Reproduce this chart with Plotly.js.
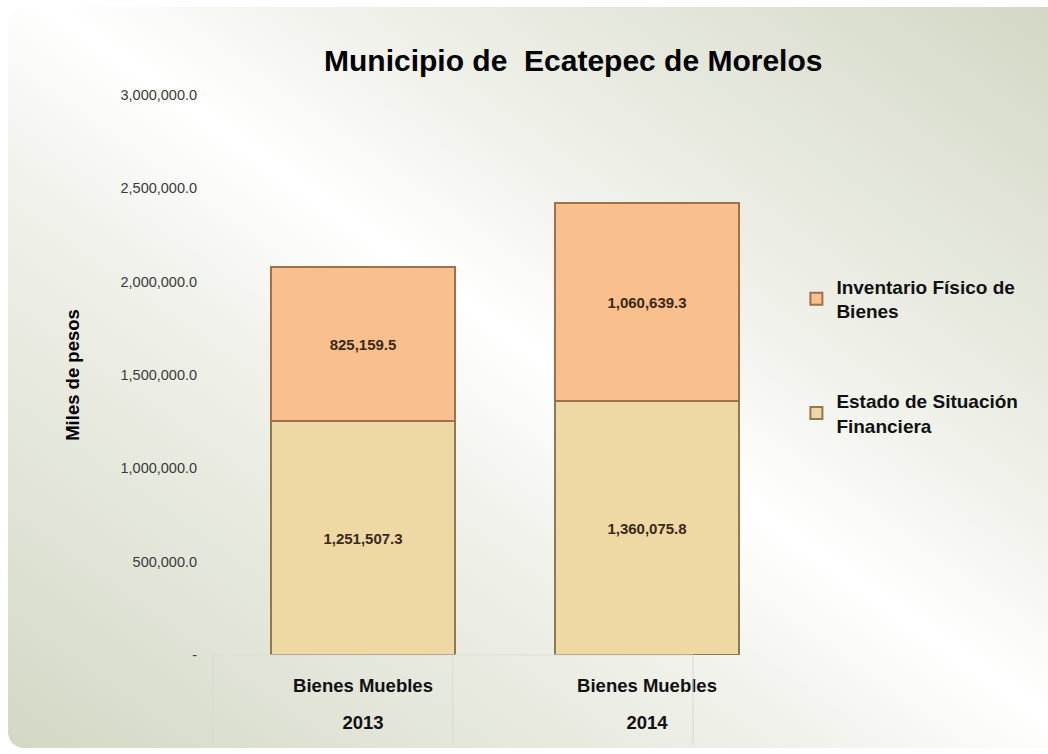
<!DOCTYPE html>
<html>
<head>
<meta charset="utf-8">
<script src="https://cdn.plot.ly/plotly-3.0.1.min.js"></script>
<style>
  html, body { margin: 0; padding: 0; background: #ffffff; }
  #wrap { position: absolute; left: 0; top: 0; width: 1048px; height: 754px; background: #ffffff; }
  #bg { position: absolute; left: 8px; top: 7px; width: 1040px; height: 741px;
        border-radius: 16px 0 0 16px;
        background: linear-gradient(to top right, #d3d8c5 0%, #f0f1ea 38%, #ffffff 52%, #f0f1ea 66%, #d3d8c5 100%); }
  #chart { position: absolute; left: 0; top: 0; width: 1048px; height: 754px; }
</style>
</head>
<body>
<div id="wrap">
  <div id="bg"></div>
  <div id="chart"></div>
</div>
<script>
const years = ["2013", "2014"];
const categories = ["Bienes Muebles", "Bienes Muebles"];
const estadoSituacion = [1251507.3, 1360075.8];
const inventarioFisico = [825159.5, 1060639.3];
const seriesNames = ["Estado de Situación<br>Financiera", "Inventario Físico de<br>Bienes"];
const yTickVals = [0, 500000, 1000000, 1500000, 2000000, 2500000, 3000000];
const yTickText = ["-", "500,000.0", "1,000,000.0", "1,500,000.0", "2,000,000.0", "2,500,000.0", "3,000,000.0"];

function fmt(v) {
  return v.toLocaleString("en-US", {minimumFractionDigits: 1, maximumFractionDigits: 1});
}

const labelFont = {family: "Liberation Sans, Arial, sans-serif", size: 15, color: "#3a2a1a", weight: "bold"};
const catFont = {family: "Liberation Sans, Arial, sans-serif", size: 18.5, color: "#111111", weight: "bold"};

const traces = [
  {
    type: "bar", name: seriesNames[0], legendgroup: "estado", legendrank: 2,
    x: years, y: estadoSituacion,
    text: estadoSituacion.map(fmt), texttemplate: "<b>%{text}</b>",
    textposition: "inside", insidetextanchor: "middle",
    textfont: labelFont,
    marker: {color: "#eed9a4", line: {color: "#8f7a50", width: 2}},
    hoverinfo: "skip"
  },
  {
    type: "bar", name: seriesNames[1], legendgroup: "inventario", legendrank: 1,
    x: years, y: inventarioFisico,
    text: inventarioFisico.map(fmt), texttemplate: "<b>%{text}</b>",
    textposition: "inside", insidetextanchor: "middle",
    textfont: labelFont,
    marker: {color: "#f9bf8c", line: {color: "#a0704a", width: 2}},
    hoverinfo: "skip"
  },
  {
    type: "scatter", mode: "markers", x: years, y: [null, null],
    xaxis: "x2", showlegend: false, hoverinfo: "skip"
  }
];

// light table-like dividers below the plot area (decoration only)
const dividerX = [-0.014, 0.408, 0.831];
const shapes = dividerX.map(function (px) {
  return {type: "line", xref: "paper", yref: "paper", x0: px, x1: px, y0: 0, y1: -0.16,
          line: {color: "#d8dad2", width: 1}};
});
shapes.push({type: "line", xref: "paper", yref: "paper", x0: dividerX[0], x1: dividerX[2], y0: 0, y1: 0,
             line: {color: "#dcdfd6", width: 1}});

const layout = {
  width: 1048, height: 754,
  paper_bgcolor: "rgba(0,0,0,0)", plot_bgcolor: "rgba(0,0,0,0)",
  margin: {l: 221, r: 259, t: 95, b: 99},
  barmode: "stack", bargap: 0.35,
  showlegend: true,
  shapes: shapes,
  title: {
    text: "<b>Municipio de&nbsp; Ecatepec de Morelos</b>",
    font: {family: "Liberation Sans, Arial, sans-serif", size: 30, color: "#000000"},
    x: 0.547, xanchor: "center", y: 0.92, yanchor: "middle"
  },
  xaxis: {
    type: "category", categoryorder: "array", categoryarray: years,
    tickvals: years, ticktext: categories,
    tickfont: catFont, ticklabelstandoff: 17,
    showline: false, showgrid: false, zeroline: false, ticks: ""
  },
  xaxis2: {
    type: "category", overlaying: "x", matches: "x", anchor: "y", side: "bottom",
    categoryorder: "array", categoryarray: years,
    tickvals: years, ticktext: years,
    tickfont: catFont, ticklabelstandoff: 54,
    showline: false, showgrid: false, zeroline: false, ticks: ""
  },
  yaxis: {
    range: [0, 3000000], autorange: false,
    tickvals: yTickVals, ticktext: yTickText,
    tickfont: {family: "Liberation Sans, Arial, sans-serif", size: 14.5, color: "#3a3a3a"},
    ticks: "outside", ticklen: 20, tickcolor: "rgba(0,0,0,0)",
    showgrid: false, zeroline: false, showline: false,
    title: {text: "<b>Miles de pesos</b>", standoff: 36,
            font: {family: "Liberation Sans, Arial, sans-serif", size: 18.5, color: "#000000"}}
  },
  legend: {
    x: 1.013, xanchor: "left", y: 0.692, yanchor: "top",
    traceorder: "grouped", tracegroupgap: 62,
    bgcolor: "rgba(0,0,0,0)",
    font: {family: "Liberation Sans, Arial, sans-serif", size: 19, color: "#111111", weight: "bold"},
    itemwidth: 30
  }
};

Plotly.newPlot("chart", traces, layout, {displayModeBar: false, staticPlot: true});
</script>
</body>
</html>
